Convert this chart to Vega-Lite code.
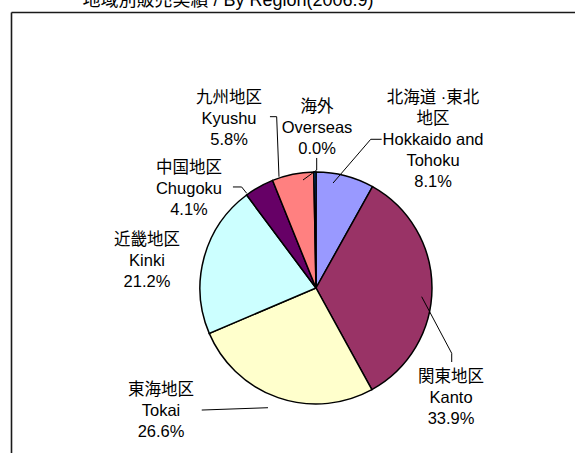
{
  "$schema": "https://vega.github.io/schema/vega-lite/v6.json",
  "width": 575,
  "height": 453,
  "padding": 0,
  "autosize": "none",
  "background": "white",
  "config": {"view": {"stroke": null}, "axis": {"disable": true}, "text": {"font": "Liberation Sans, Noto Sans CJK JP, sans-serif"}},
  "datasets": {
    "regions": [
      {"region": "Hokkaido and Tohoku", "share": 8.1, "ord": 1},
      {"region": "Kanto", "share": 33.9, "ord": 2},
      {"region": "Tokai", "share": 26.6, "ord": 3},
      {"region": "Kinki", "share": 21.2, "ord": 4},
      {"region": "Chugoku", "share": 4.1, "ord": 5},
      {"region": "Kyushu", "share": 5.8, "ord": 6},
      {"region": "Overseas", "share": 0.3, "ord": 7}
    ],
    "labels": [
      {"text": "九州地区\nKyushu\n5.8%", "lx": -0.75, "ly": 1.595},
      {"text": "海外\nOverseas\n0.0%", "lx": 0.009, "ly": 1.517},
      {"text": "北海道 ·東北\n地区\nHokkaido and\nTohoku\n8.1%", "lx": 1.009, "ly": 1.595},
      {"text": "中国地区\nChugoku\n4.1%", "lx": -1.095, "ly": 0.991},
      {"text": "近畿地区\nKinki\n21.2%", "lx": -1.457, "ly": 0.371},
      {"text": "東海地区\nTokai\n26.6%", "lx": -1.336, "ly": -0.922},
      {"text": "関東地区\nKanto\n33.9%", "lx": 1.164, "ly": -0.81}
    ],
    "leaders": [
      {"x1": -0.397, "y1": 1.477, "x2": -0.339, "y2": 1.477},
      {"x1": -0.339, "y1": 1.477, "x2": -0.319, "y2": 0.959},
      {"x1": 0.006, "y1": 1.121, "x2": 0.006, "y2": 1.017},
      {"x1": 0.006, "y1": 1.017, "x2": -0.112, "y2": 0.931},
      {"x1": 0.566, "y1": 1.282, "x2": 0.472, "y2": 1.282},
      {"x1": 0.472, "y1": 1.282, "x2": 0.147, "y2": 0.905},
      {"x1": -0.716, "y1": 0.871, "x2": -0.641, "y2": 0.871},
      {"x1": -0.641, "y1": 0.871, "x2": -0.597, "y2": 0.816},
      {"x1": 0.911, "y1": -0.075, "x2": 1.17, "y2": -0.563},
      {"x1": 1.17, "y1": -0.563, "x2": 1.17, "y2": -0.638},
      {"x1": -0.985, "y1": -1.052, "x2": -0.414, "y2": -1.032}
    ],
    "one": [{"k": 1}]
  },
  "layer": [
    {
      "data": {"name": "one"},
      "mark": {"type": "text", "fontSize": 18, "align": "center", "baseline": "alphabetic", "color": "#000"},
      "encoding": {
        "x": {"datum": -0.759, "type": "quantitative", "scale": {"domain": [-2.7241, 2.2328], "nice": false, "zero": false}, "axis": null},
        "y": {"datum": 2.427, "type": "quantitative", "scale": {"domain": [-1.4224, 2.4828], "nice": false, "zero": false}, "axis": null},
        "text": {"value": "地域別販売実績 / By Region(2006.9)"}
      }
    },
    {
      "data": {"name": "one"},
      "mark": {"type": "rule", "color": "#1a1a1a", "strokeWidth": 1.6},
      "encoding": {
        "x": {"datum": -2.625, "type": "quantitative"},
        "x2": {"datum": 2.2328},
        "y": {"datum": 2.375, "type": "quantitative"}
      }
    },
    {
      "data": {"name": "one"},
      "mark": {"type": "rule", "color": "#1a1a1a", "strokeWidth": 1.6},
      "encoding": {
        "x": {"datum": -2.625, "type": "quantitative"},
        "y": {"datum": 2.375, "type": "quantitative"},
        "y2": {"datum": -1.4224}
      }
    },
    {
      "data": {"name": "regions"},
      "mark": {"type": "arc", "outerRadius": 116, "stroke": "#000", "strokeWidth": 1.5},
      "encoding": {
        "x": {"datum": 0, "type": "quantitative"},
        "y": {"datum": 0, "type": "quantitative"},
        "theta": {"field": "share", "type": "quantitative", "stack": true},
        "order": {"field": "ord", "type": "quantitative"},
        "color": {
          "field": "region", "type": "nominal", "legend": null,
          "scale": {
            "domain": ["Hokkaido and Tohoku", "Kanto", "Tokai", "Kinki", "Chugoku", "Kyushu", "Overseas"],
            "range": ["#9999FF", "#993366", "#FFFFCC", "#CCFFFF", "#660066", "#FF8080", "#0066CC"]
          }
        }
      }
    },
    {
      "data": {"name": "leaders"},
      "mark": {"type": "rule", "color": "#000", "strokeWidth": 1},
      "encoding": {
        "x": {"field": "x1", "type": "quantitative"},
        "y": {"field": "y1", "type": "quantitative"},
        "x2": {"field": "x2"},
        "y2": {"field": "y2"}
      }
    },
    {
      "data": {"name": "labels"},
      "mark": {"type": "text", "fontSize": 16.5, "align": "center", "baseline": "alphabetic", "lineBreak": "\n", "lineHeight": 21, "color": "#000"},
      "encoding": {
        "x": {"field": "lx", "type": "quantitative"},
        "y": {"field": "ly", "type": "quantitative"},
        "text": {"field": "text"}
      }
    }
  ]
}
